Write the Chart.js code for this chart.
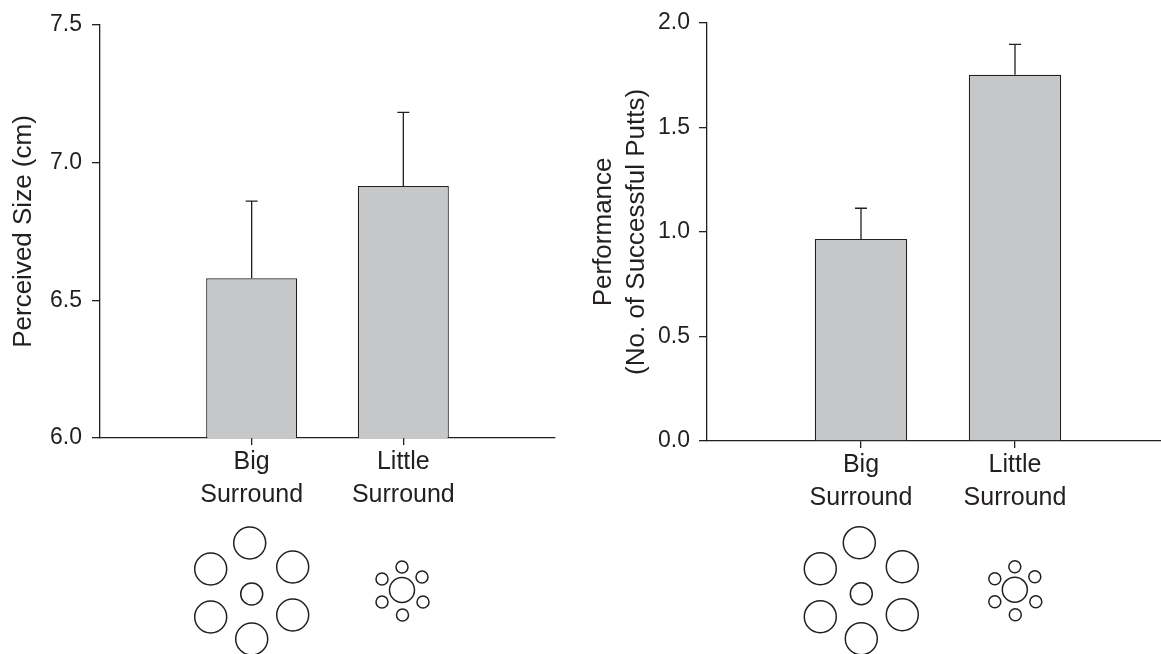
<!DOCTYPE html>
<html>
<head>
<meta charset="utf-8">
<script src="https://cdn.jsdelivr.net/npm/chart.js@4.4.1/dist/chart.umd.min.js"></script>
<style>
    html, body { margin: 0; padding: 0; background: #fff; }
    #wrap { position: relative; width: 1161px; height: 654px; overflow: hidden; }
    canvas { position: absolute; }
</style>
</head>
<body>
<div id="wrap">
    <canvas id="sizeChart" width="580" height="520" style="left:0;top:0"></canvas>
    <canvas id="puttChart" width="610" height="520" style="left:580px;top:0"></canvas>
    <canvas id="glyphChart" width="1161" height="144" style="left:0;top:510px"></canvas>
</div>
<script>
// conditions (x axis)
const conditions = [['Big', 'Surround'], ['Little', 'Surround']];

// left panel: perceived size
const sizeMeans = [6.58, 6.915];
const sizeErrTops = [6.86, 7.183];
const sizeTicks = [6.0, 6.5, 7.0, 7.5];

// right panel: putting performance
const puttMeans = [0.966, 1.751];
const puttErrTops = [1.113, 1.897];
const puttTicks = [0.0, 0.5, 1.0, 1.5, 2.0];

// Ebbinghaus figures: surround circles as offsets from the target circle
const bigRing = [[-2, -51], [-41, -25], [41, -27], [-41, 23], [41, 21], [0, 45]];
const littleRing = [[0, -23], [-20, -11], [20, -13], [-20, 12], [21, 12], [0.5, 25]];
const ringRadius = [16, 6];
const targetRadius = [11, 12.5];
const glyphCentersLeft = [[251.7, 84], [402, 80]];
const glyphCentersRight = [[861.3, 83.7], [1014.8, 79.7]];

const ink = '#231f20';
const barFill = '#c6c7c9';
const family = '"Liberation Sans", Arial, Helvetica, sans-serif';

function errorBarPlugin(tops) {
    return {
        id: 'errorBars',
        afterDatasetsDraw(chart) {
            const meta = chart.getDatasetMeta(0);
            const y = chart.scales.y;
            const c = chart.ctx;
            c.save();
            c.strokeStyle = ink;
            c.lineWidth = 1.3;
            meta.data.forEach((bar, i) => {
                const v = tops[i];
                if (v == null) return;
                const top = y.getPixelForValue(v);
                c.beginPath();
                c.moveTo(bar.x, bar.y);
                c.lineTo(bar.x, top);
                c.moveTo(bar.x - 6, top);
                c.lineTo(bar.x + 6, top);
                c.stroke();
            });
            c.restore();
        }
    };
}

function renderPanel(canvasId, o) {
    const labels = [''].concat(conditions, ['']);
    const n = labels.length;
    new Chart(document.getElementById(canvasId), {
        type: 'bar',
        data: {
            labels: labels,
            datasets: [{
                data: [null].concat(o.means, [null]),
                backgroundColor: barFill,
                borderColor: ink,
                borderWidth: 1.2,
                barPercentage: 0.6,
                categoryPercentage: 1
            }]
        },
        options: {
            responsive: false,
            animation: false,
            events: [],
            layout: { padding: o.padding },
            plugins: { legend: { display: false }, tooltip: { enabled: false } },
            scales: {
                x: {
                    type: 'category',
                    offset: false,
                    grid: {
                        offset: false,
                        drawOnChartArea: false,
                        tickLength: 7,
                        lineWidth: 1.3,
                        tickColor: ctx => (ctx.index === 0 || ctx.index === n - 1) ? 'rgba(0,0,0,0)' : ink
                    },
                    border: { color: ink, width: 1.3 },
                    ticks: {
                        color: ink,
                        padding: 0,
                        maxRotation: 0,
                        autoSkip: false,
                        font: { family: family, size: 25, lineHeight: 1.34 }
                    },
                    afterFit: s => { s.height = o.xHeight; }
                },
                y: {
                    min: o.ticks[0],
                    max: o.ticks[o.ticks.length - 1],
                    grid: { drawOnChartArea: false, tickLength: 8, lineWidth: 1.3, color: ink },
                    border: { color: ink, width: 1.3 },
                    ticks: {
                        color: ink,
                        padding: o.tickPad,
                        font: { family: family, size: 23 },
                        callback: v => Number(v).toFixed(1)
                    },
                    afterBuildTicks: s => { s.ticks = o.ticks.map(v => ({ value: v })); },
                    title: {
                        display: true,
                        text: o.title,
                        color: ink,
                        font: { family: family, size: 26, lineHeight: 1.27 },
                        padding: { top: 7, bottom: 0 }
                    },
                    afterFit: s => { s.width = o.yWidth; }
                }
            }
        },
        plugins: [errorBarPlugin([null].concat(o.errTops, [null]))]
    });
}

renderPanel('sizeChart', {
    means: sizeMeans, errTops: sizeErrTops, ticks: sizeTicks,
    title: 'Perceived Size (cm)',
    padding: { top: 25, right: 25, left: 0, bottom: 0 },
    yWidth: 100, xHeight: 82, tickPad: 10
});

// right panel's axis runs past the page edge (cropped like the original)
renderPanel('puttChart', {
    means: puttMeans, errTops: puttErrTops, ticks: puttTicks,
    title: ['Performance', '(No. of Successful Putts)'],
    padding: { top: 20, right: 21, left: 0, bottom: 0 },
    yWidth: 127, xHeight: 79, tickPad: 9
});

// circles under the bars
function glyphPoints(centers) {
    const pts = [];
    [bigRing, littleRing].forEach((ring, k) => {
        const cx = centers[k][0], cy = centers[k][1];
        pts.push({ x: cx, y: cy, r: targetRadius[k] });
        ring.forEach(d => pts.push({ x: cx + d[0], y: cy + d[1], r: ringRadius[k] }));
    });
    return pts;
}

new Chart(document.getElementById('glyphChart'), {
    type: 'bubble',
    data: {
        datasets: [{
            data: glyphPoints(glyphCentersLeft).concat(glyphPoints(glyphCentersRight)),
            backgroundColor: 'rgba(0,0,0,0)',
            borderColor: ink,
            borderWidth: 1.5,
            clip: false
        }]
    },
    options: {
        responsive: false,
        animation: false,
        events: [],
        layout: { padding: 0, autoPadding: false },
        plugins: { legend: { display: false }, tooltip: { enabled: false } },
        scales: {
            x: { type: 'linear', display: false, min: 0, max: 1161 },
            y: { type: 'linear', display: false, min: 0, max: 144, reverse: true }
        }
    }
});
</script>
</body>
</html>
